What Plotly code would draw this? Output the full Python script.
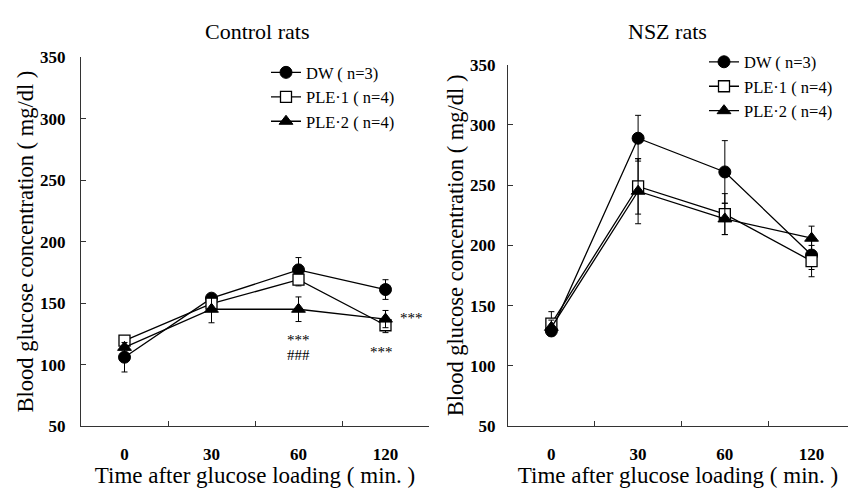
import plotly.graph_objects as go

times = ["0", "30", "60", "120"]
series = ["DW ( n=3)", "PLE·1 ( n=4)", "PLE·2 ( n=4)"]

ctrl_dw = [106, 154, 177, 161]
ctrl_dw_err = [12, 3, 10, 8]
ctrl_ple1 = [119.5, 149.5, 169, 132]
ctrl_ple1_err = [3, 4, 5, 6]
ctrl_ple2 = [114, 145, 145, 137]
ctrl_ple2_err = [4, 11, 10, 7]

nsz_dw = [129, 289, 261, 192]
nsz_dw_err = [4, 19, 26, 12]
nsz_ple1 = [135, 249, 226, 187]
nsz_ple1_err = [10, 23, 17, 13]
nsz_ple2 = [132, 245, 222, 206]
nsz_ple2_err = [6, 27, 13, 10]

sig_text = ["***", "###", "***", "***"]
sig_x = [2, 2, 2.95, 3.3]
sig_y = [120, 108, 110, 138]

FONT = "Liberation Serif"

styles = [
    dict(symbol="circle", size=12, color="black", line=dict(color="black", width=1)),
    dict(symbol="square", size=11, color="white", line=dict(color="black", width=1.3)),
    dict(symbol="triangle-up", size=12, color="black", line=dict(color="black", width=1)),
]

fig = go.Figure()

ctrl = [(ctrl_dw, ctrl_dw_err), (ctrl_ple1, ctrl_ple1_err), (ctrl_ple2, ctrl_ple2_err)]
nsz = [(nsz_dw, nsz_dw_err), (nsz_ple1, nsz_ple1_err), (nsz_ple2, nsz_ple2_err)]

for i, (vals, err) in enumerate(ctrl):
    fig.add_trace(go.Scatter(
        x=times, y=vals, name=series[i], mode="lines+markers",
        line=dict(color="black", width=1.3), marker=styles[i],
        error_y=dict(type="data", array=err, color="black", thickness=1, width=3),
        xaxis="x", yaxis="y", legend="legend"))

for i, (vals, err) in enumerate(nsz):
    fig.add_trace(go.Scatter(
        x=times, y=vals, name=series[i], mode="lines+markers",
        line=dict(color="black", width=1.3), marker=styles[i],
        error_y=dict(type="data", array=err, color="black", thickness=1, width=3),
        xaxis="x2", yaxis="y2", legend="legend2"))

for t, x, y in zip(sig_text, sig_x, sig_y):
    fig.add_annotation(x=x, y=y, xref="x", yref="y", text=t, showarrow=False,
                       xanchor="center", yanchor="middle",
                       font=dict(family=FONT, size=15, color="black"))

fig.add_annotation(x=257 / 848, y=1 - 23 / 488, xref="paper", yref="paper",
                   xanchor="center", yanchor="middle",
                   text="Control rats", showarrow=False,
                   font=dict(family=FONT, size=22, color="black"))
fig.add_annotation(x=667 / 848, y=1 - 23 / 488, xref="paper", yref="paper",
                   xanchor="center", yanchor="middle",
                   text="NSZ rats", showarrow=False,
                   font=dict(family=FONT, size=22, color="black"))

tick_font = dict(family=FONT, size=17, color="black", weight="bold")
title_font = dict(family=FONT, size=23, color="black")

axis_common = dict(
    showline=True, linecolor="#333", linewidth=1, showgrid=False, zeroline=False,
    ticks="inside", ticklen=5, tickcolor="#333", mirror=False,
    tickfont=tick_font,
)

fig.update_layout(
    width=848, height=488, margin=dict(l=0, r=0, t=0, b=0),
    paper_bgcolor="white", plot_bgcolor="white",
    font=dict(family=FONT, color="black"),
    xaxis=dict(domain=[81 / 848, 429 / 848], type="category", range=[-0.5, 3.5],
               tickson="boundaries", anchor="y", ticklabelstandoff=12,
               title=dict(text="Time after glucose loading ( min. )", standoff=0,
                          font=title_font),
               **axis_common),
    yaxis=dict(domain=[1 - 434 / 488, 1 - 50 / 488], range=[50, 350], dtick=50,
               anchor="x", ticklabelstandoff=11,
               title=dict(text="Blood glucose concentration ( mg/dl )", standoff=0,
                          font=dict(family=FONT, size=22.5, color="black")),
               **axis_common),
    xaxis2=dict(domain=[508 / 848, 1.0], type="category", range=[-0.5, 3.42],
                tickson="boundaries", anchor="y2", ticklabelstandoff=12,
                title=dict(text="Time after glucose loading ( min. )", standoff=0,
                           font=title_font),
                **axis_common),
    yaxis2=dict(domain=[1 - 434 / 488, 1 - 58 / 488], range=[50, 350], dtick=50,
                anchor="x2", ticklabelstandoff=8,
                title=dict(text="Blood glucose concentration ( mg/dl )", standoff=0,
                           font=dict(family=FONT, size=22.5, color="black")),
                **axis_common),
    legend=dict(x=266 / 848, y=1 - 48 / 488, xanchor="left", yanchor="top",
                bgcolor="rgba(0,0,0,0)", font=dict(family=FONT, size=16.5),
                tracegroupgap=0),
    legend2=dict(x=704 / 848, y=1 - 37 / 488, xanchor="left", yanchor="top",
                 bgcolor="rgba(0,0,0,0)", font=dict(family=FONT, size=16.5),
                 tracegroupgap=0),
    showlegend=True,
)

fig.write_html("out.html")
